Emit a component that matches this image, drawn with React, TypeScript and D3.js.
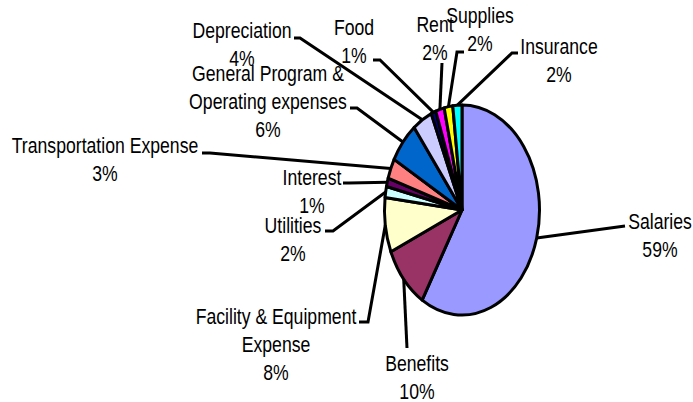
import React from "react";
import * as d3 from "d3";

const categories = [
  "Salaries",
  "Benefits",
  "Facility & Equipment Expense",
  "Utilities",
  "Interest",
  "Transportation Expense",
  "General Program & Operating expenses",
  "Depreciation",
  "Food",
  "Rent",
  "Supplies",
  "Insurance",
];
const values = [58.6, 9.9, 8.4, 1.7, 1.3, 3.1, 6.4, 4.1, 1.0, 1.8, 1.8, 1.9];
const colors = [
  "#9999FF", "#993366", "#FFFFCC", "#CCFFFF", "#660066", "#FF8080",
  "#0066CC", "#CCCCFF", "#000080", "#FF00FF", "#FFFF00", "#00FFFF",
];
// how each category name wraps in its label
const labelLines = [
  ["Salaries"],
  ["Benefits"],
  ["Facility & Equipment", "Expense"],
  ["Utilities"],
  ["Interest"],
  ["Transportation Expense"],
  ["General Program &", "Operating expenses"],
  ["Depreciation"],
  ["Food"],
  ["Rent"],
  ["Supplies"],
  ["Insurance"],
];

// layout: label centre x, first baseline y, leader path points (after the slice edge)
const layout: { x: number; y: number; leader: [number, number][] }[] = [
  { x: 660, y: 229, leader: [[625, 226]] },
  { x: 417, y: 371, leader: [[407, 348]] },
  { x: 276, y: 324, leader: [[368, 322], [359, 322]] },
  { x: 293, y: 233, leader: [[333, 231], [325, 231]] },
  { x: 312, y: 185, leader: [[349, 183], [343, 183]] },
  { x: 105, y: 153, leader: [[210, 153], [202, 153]] },
  { x: 268, y: 81, leader: [[357, 108], [350, 108]] },
  { x: 242, y: 38, leader: [[300, 38], [294, 38]] },
  { x: 354, y: 35, leader: [[380, 60], [373, 60]] },
  { x: 435, y: 32, leader: [[442, 63]] },
  { x: 480, y: 23, leader: [[457, 52], [464, 52]] },
  { x: 559, y: 54, leader: [[512, 53], [518, 53]] },
];

const W = 693;
const H = 402;
const CX = 462;
const CY = 210;
const RX = 77.5;
const RY = 105;
const R = 100;
const LINE_H = 28;
const NARROW = 0.82;
const FONT = "'Liberation Sans', Arial, sans-serif";

export default function App() {
  const pie = d3
    .pie<number>()
    .sort(null)
    .startAngle(0)
    .endAngle(2 * Math.PI)
    .value((d) => d);
  const arcs = pie(values);
  const arc = d3.arc<d3.PieArcDatum<number>>().innerRadius(0).outerRadius(R);
  const total = d3.sum(values);
  const sx = d3.scaleLinear().domain([-1, 1]).range([CX - RX, CX + RX]);
  const sy = d3.scaleLinear().domain([-1, 1]).range([CY - RY, CY + RY]);
  const line = d3.line();

  return (
    <svg
      width={W}
      height={H}
      style={{ position: "absolute", left: 0, top: 0, background: "#fff" }}
    >
      <rect x={0} y={0} width={W} height={H} fill="#fff" />
      <g transform={`translate(${CX},${CY}) scale(${RX / R},${RY / R})`}>
        {arcs.map((a, i) => (
          <path
            key={i}
            d={arc(a) || ""}
            fill={colors[i]}
            stroke="#000"
            strokeWidth={3}
            strokeLinejoin="round"
            vectorEffect="non-scaling-stroke"
          />
        ))}
      </g>
      {arcs.map((a, i) => {
        const mid = (a.startAngle + a.endAngle) / 2;
        const p0: [number, number] = [sx(Math.sin(mid)), sy(-Math.cos(mid))];
        const pts: [number, number][] = [p0, ...layout[i].leader];
        return (
          <path
            key={"l" + i}
            d={line(pts) || ""}
            fill="none"
            stroke="#000"
            strokeWidth={3}
            strokeLinejoin="miter"
          />
        );
      })}
      {arcs.map((a, i) => {
        const pct = Math.round((values[i] / total) * 100) + "%";
        const lines = [...labelLines[i], pct];
        return (
          <g
            key={"t" + i}
            transform={`translate(${layout[i].x},${layout[i].y}) scale(${NARROW},1)`}
          >
            <text
              x={0}
              y={0}
              textAnchor="middle"
              fontFamily={FONT}
              fontSize={21.5}
              fill="#000"
            >
              {lines.map((t, j) => (
                <tspan key={j} x={0} dy={j === 0 ? 0 : LINE_H}>
                  {t}
                </tspan>
              ))}
            </text>
          </g>
        );
      })}
    </svg>
  );
}
